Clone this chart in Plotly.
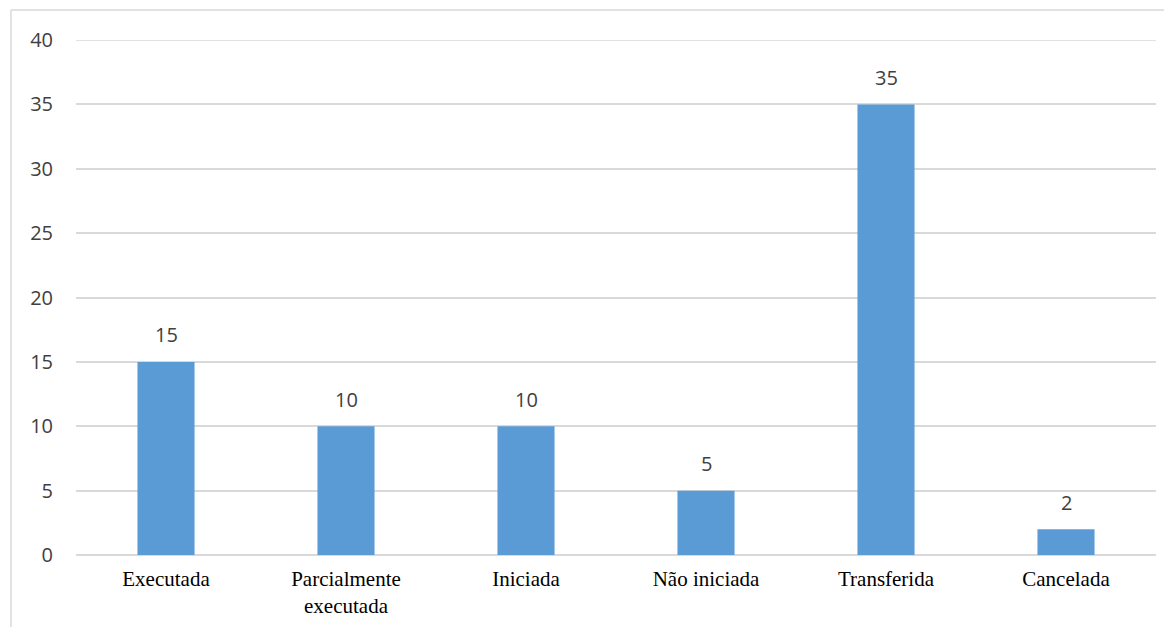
import plotly.graph_objects as go

categories = ["Executada", "Parcialmente<br>executada", "Iniciada", "Não iniciada", "Transferida", "Cancelada"]
values = [15, 10, 10, 5, 35, 2]
y_ticks = [0, 5, 10, 15, 20, 25, 30, 35, 40]

fig = go.Figure()
fig.add_trace(go.Bar(
    x=categories,
    y=values,
    marker_color="#5B9BD5",
    marker_line_width=0,
    width=0.317,
))

# value labels sit well above each bar, as in the source chart
for cat, val in zip(categories, values):
    fig.add_annotation(
        x=cat, y=val, text=str(val), showarrow=False,
        yanchor="middle", yshift=27,
        font=dict(family="Open Sans", size=20, color="#404040"),
    )

fig.update_layout(
    width=1164,
    height=627,
    margin=dict(l=76, r=8, t=40, b=72),
    plot_bgcolor="white",
    paper_bgcolor="white",
    showlegend=False,
    xaxis=dict(
        tickfont=dict(family="Liberation Serif", size=21, color="#000000"),
        showgrid=False,
        showline=False,
        ticks="",
        automargin=False,
        ticklabelstandoff=9,
    ),
    yaxis=dict(
        range=[y_ticks[0], y_ticks[-1]],
        tickvals=y_ticks,
        tickfont=dict(family="Open Sans", size=20, color="#404040"),
        gridcolor="#D9D9D9",
        gridwidth=1.5,
        zeroline=True,
        zerolinecolor="#D9D9D9",
        zerolinewidth=1.5,
        ticks="",
        automargin=False,
        ticklabelstandoff=22,
    ),
    shapes=[
        # plotly skips the gridline sitting on the top edge, so draw it
        dict(type="line", xref="paper", yref="y", x0=0, x1=1, y0=y_ticks[-1], y1=y_ticks[-1],
             line=dict(color="#D9D9D9", width=1.5), layer="below"),
        # chart frame (top and left edges visible in the crop)
        dict(type="line", xref="paper", yref="paper", x0=-0.0602, x1=1.01, y0=1.0583, y1=1.0583,
             line=dict(color="#D9D9D9", width=1.5)),
        dict(type="line", xref="paper", yref="paper", x0=-0.0602, x1=-0.0602, y0=1.0583, y1=-0.14,
             line=dict(color="#D9D9D9", width=1.5)),
    ],
)

fig.write_html(
    "out.html",
    config={"displayModeBar": False},
    post_script="document.body.style.margin='0';",
)
